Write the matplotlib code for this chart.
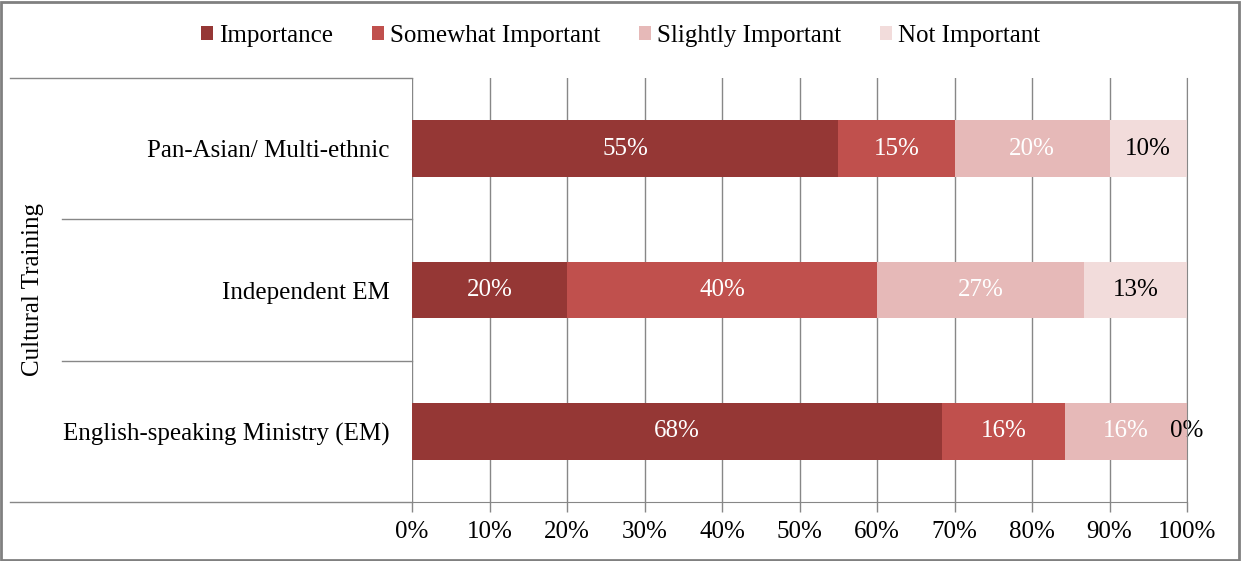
import matplotlib
matplotlib.use("Agg")
import matplotlib.pyplot as plt
import numpy as np

categories = ["English-speaking Ministry (EM)", "Independent EM", "Pan-Asian/ Multi-ethnic"]
series_names = ["Importance", "Somewhat Important", "Slightly Important", "Not Important"]
importance = [68.4, 20.0, 55.0]
somewhat = [15.8, 40.0, 15.0]
slightly = [15.8, 26.7, 20.0]
not_important = [0.0, 13.3, 10.0]
labels_importance = ["68%", "20%", "55%"]
labels_somewhat = ["16%", "40%", "15%"]
labels_slightly = ["16%", "27%", "20%"]
labels_not = ["0%", "13%", "10%"]
xtick_labels = ["0%", "10%", "20%", "30%", "40%", "50%", "60%", "70%", "80%", "90%", "100%"]
axis_title = "Cultural Training"

colors = ["#953735", "#C0504D", "#E6B9B8", "#F2DCDB"]
text_colors = ["white", "white", "white", "black"]

plt.rcParams['font.family'] = ['Liberation Serif', 'DejaVu Serif']
fs = 18
grid_c = "#878787"

fig = plt.figure(figsize=(12.41, 5.61), dpi=100)
ax = fig.add_axes([412/1241, 59/561, 775/1241, 424/561])

series = [importance, somewhat, slightly, not_important]
lab = [labels_importance, labels_somewhat, labels_slightly, labels_not]
y = np.arange(len(categories))
left = np.zeros(len(categories))
for i, vals in enumerate(series):
    vals = np.array(vals)
    bars = ax.barh(y, vals, left=left, height=0.4, color=colors[i], label=series_names[i], zorder=3)
    for j, b in enumerate(bars):
        cx = left[j] + vals[j] / 2
        ax.text(cx, y[j], lab[i][j], ha="center", va="center", color=text_colors[i], fontsize=fs, zorder=4)
    left = left + vals

ax.set_xlim(0, 100)
ax.set_ylim(-0.5, len(categories) - 0.5)
ax.set_xticks(np.arange(0, 101, 10))
ax.set_xticklabels(xtick_labels, fontsize=fs)
ax.set_yticks(y)
ax.set_yticklabels(categories, fontsize=fs)
ax.tick_params(axis="y", length=0, pad=16)
ax.tick_params(axis="x", length=7, color=grid_c, width=1, pad=7)
ax.grid(axis="x", color=grid_c, linewidth=1, zorder=0)
for s in ["top", "left"]:
    ax.spines[s].set_visible(False)
ax.spines["right"].set_color(grid_c)
ax.spines["right"].set_zorder(5)
ax.spines["bottom"].set_color(grid_c)
ax.spines["bottom"].set_zorder(5)

# category separators extending into label area
trans = matplotlib.transforms.blended_transform_factory(ax.transAxes, ax.transData)
bounds = np.arange(-0.5, len(categories), 1.0)
for k, yb in enumerate(bounds):
    x0 = -0.519 if k in (0, len(bounds) - 1) else -0.452
    ax.plot([x0, 0], [yb, yb], color=grid_c, linewidth=1, transform=trans, clip_on=False, zorder=5)

fig.text(33/1241, 1 - 290/561, axis_title, rotation=90, ha="center", va="center", fontsize=fs)

leg = fig.legend(loc="center", bbox_to_anchor=(0.5, 1 - 36/561), ncol=4, frameon=False,
                 fontsize=fs, handlelength=0.48, handleheight=0.48, handletextpad=0.25, columnspacing=1.55)

# outer border
fig.patches.append(matplotlib.patches.Rectangle((1/1241, 1/561), 1 - 3/1241, 1 - 3/561,
                   transform=fig.transFigure, fill=False, edgecolor="#808080", linewidth=2))

fig.savefig("out.png", dpi=100)
